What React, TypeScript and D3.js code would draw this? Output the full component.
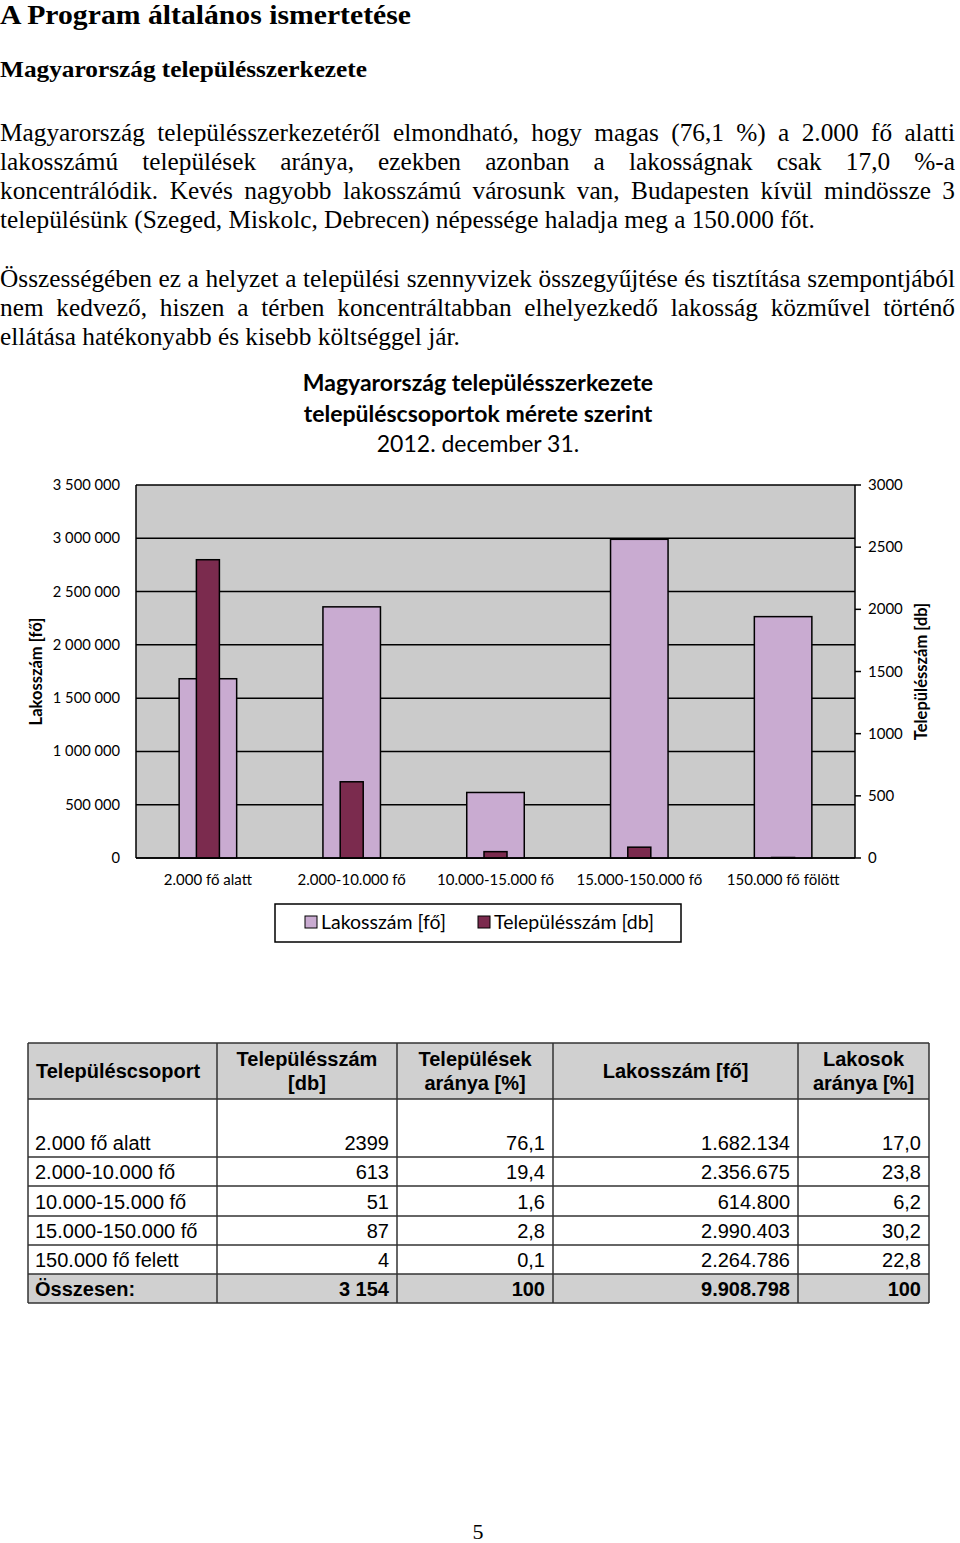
import React, { useMemo } from 'react';
import * as d3 from 'd3';

// ---------- Data ----------
const categories = ['2.000 fő alatt', '2.000-10.000 fő', '10.000-15.000 fő', '15.000-150.000 fő', '150.000 fő fölött'];
const lakosszam = [1682134, 2356675, 614800, 2990403, 2264786];
const telepulesszam = [2399, 613, 51, 87, 4];
const leftTicks = [0, 500000, 1000000, 1500000, 2000000, 2500000, 3000000, 3500000];
const rightTicks = [0, 500, 1000, 1500, 2000, 2500, 3000];

const tableHeaders = [['Településcsoport'], ['Településszám', '[db]'], ['Települések', 'aránya [%]'], ['Lakosszám [fő]'], ['Lakosok', 'aránya [%]']];
const tableGroups = ['2.000 fő alatt', '2.000-10.000 fő', '10.000-15.000 fő', '15.000-150.000 fő', '150.000 fő felett'];
const tableTelepulesszam = ['2399', '613', '51', '87', '4'];
const tableTelepulesArany = ['76,1', '19,4', '1,6', '2,8', '0,1'];
const tableLakosszam = ['1.682.134', '2.356.675', '614.800', '2.990.403', '2.264.786'];
const tableLakosArany = ['17,0', '23,8', '6,2', '30,2', '22,8'];
const tableTotals = ['Összesen:', '3 154', '100', '9.908.798', '100'];

const para1 = [
  'Magyarország településszerkezetéről elmondható, hogy magas (76,1 %) a 2.000 fő alatti',
  'lakosszámú települések aránya, ezekben azonban a lakosságnak csak  17,0 %-a',
  'koncentrálódik. Kevés nagyobb lakosszámú városunk van, Budapesten kívül mindössze 3',
  'településünk (Szeged, Miskolc, Debrecen) népessége haladja meg a 150.000 főt.',
];
const para2 = [
  'Összességében ez a helyzet a települési szennyvizek összegyűjtése és tisztítása szempontjából',
  'nem kedvező, hiszen a térben koncentráltabban elhelyezkedő lakosság közművel történő',
  'ellátása hatékonyabb és kisebb költséggel jár.',
];

const LIGHT = '#C9ABD1';
const DARK = '#7B2B4E';
const PLOT_BG = '#CBCBCB';
const CH_FONT = 'Lato, "Open Sans", sans-serif';
const SERIF = '"Liberation Serif", "Times New Roman", serif';
const ARIAL = '"Liberation Sans", Arial, sans-serif';

const locale = d3.formatLocale({ decimal: ',', thousands: '\u00a0', grouping: [3], currency: ['', ''] });
const fmtLeft = locale.format(',');

let _ctx: CanvasRenderingContext2D | null = null;
function measure(text: string, font: string) {
  if (!_ctx) _ctx = document.createElement('canvas').getContext('2d');
  if (!_ctx) return text.length * 10;
  _ctx.font = font;
  return _ctx.measureText(text).width;
}

const PFS = 26;
const PFONT = `${PFS}px "Liberation Serif"`;

function Paragraph({ lines, top, sx, lh }: { lines: string[]; top: number; sx: number; lh: number }) {
  const W = 955;
  return (
    <g>
      {lines.map((line, i) => {
        const y = top + i * lh;
        const last = i === lines.length - 1;
        if (last) {
          return (
            <text key={i} transform={`translate(0,${y}) scale(${sx},1)`} fontFamily={SERIF} fontSize={PFS} fill="#000">
              {line}
            </text>
          );
        }
        const words = line.split(' ').filter((w) => w.length > 0);
        const widths = words.map((w) => measure(w, PFONT) * sx);
        const total = d3.sum(widths);
        const gap = (W - total) / (words.length - 1);
        let x = 0;
        return (
          <g key={i}>
            {words.map((w, j) => {
              const el = (
                <text key={j} transform={`translate(${x},${y}) scale(${sx},1)`} fontFamily={SERIF} fontSize={PFS} fill="#000">
                  {w}
                </text>
              );
              x += widths[j] + gap;
              return el;
            })}
          </g>
        );
      })}
    </g>
  );
}

export default function App() {
  const sx = useMemo(() => {
    const w = measure(para1[3], PFONT);
    return w > 0 ? 815 / w : 1;
  }, []);

  // chart geometry
  const plotL = 136, plotR = 855, plotT = 485, plotB = 858;
  const x = d3.scaleBand<string>().domain(categories).range([plotL, plotR]).padding(0);
  const yL = d3.scaleLinear().domain([0, 3500000]).range([plotB, plotT]);
  const yR = d3.scaleLinear().domain([0, 3000]).range([plotB, plotT]);
  const bw = x.bandwidth();
  const lakW = bw * 0.4;
  const telW = bw * 0.16;

  // table geometry
  const colX = [28, 217, 397, 553, 798, 929];
  const hTop = 1043, hBot = 1099;
  const rowBottoms = [1157, 1186, 1216, 1245, 1274, 1303];
  const tableCols = [tableGroups, tableTelepulesszam, tableTelepulesArany, tableLakosszam, tableLakosArany];

  return (
    <svg width={960} height={1543} style={{ position: 'absolute', left: 0, top: 0, background: '#fff' }}>
      <rect x={0} y={0} width={960} height={1543} fill="#fff" />
      {/* Headings */}
      <text x={0} y={24} fontFamily={SERIF} fontWeight="bold" fontSize={28} textLength={411} lengthAdjust="spacingAndGlyphs">
        A Program általános ismertetése
      </text>
      <text x={0} y={77} fontFamily={SERIF} fontWeight="bold" fontSize={24} textLength={367} lengthAdjust="spacingAndGlyphs">
        Magyarország településszerkezete
      </text>
      <Paragraph lines={para1} top={141} sx={sx} lh={29} />
      <Paragraph lines={para2} top={287} sx={sx} lh={29} />

      {/* Chart title */}
      <g fontFamily={CH_FONT} textAnchor="middle" fill="#000">
        <text x={478} y={391} fontSize={23} fontWeight="bold">Magyarország településszerkezete</text>
        <text x={478} y={422} fontSize={23} fontWeight="bold">településcsoportok mérete szerint</text>
        <text x={478} y={452} fontSize={23}>2012. december 31.</text>
      </g>

      {/* Plot area */}
      <rect x={plotL} y={plotT} width={plotR - plotL} height={plotB - plotT} fill={PLOT_BG} />
      {leftTicks.map((t) => (
        <line key={t} x1={plotL} x2={plotR} y1={yL(t)} y2={yL(t)} stroke="#000" strokeWidth={1.5} />
      ))}
      <line x1={plotL} x2={plotL} y1={plotT} y2={plotB} stroke="#000" strokeWidth={1.5} />

      {/* Lakosszám bars */}
      {categories.map((c, i) => (
        <rect key={'l' + c} x={x(c)! + bw / 2 - lakW / 2} y={yL(lakosszam[i])} width={lakW} height={plotB - yL(lakosszam[i])}
          fill={LIGHT} stroke="#000" strokeWidth={1.5} />
      ))}
      {/* Településszám bars */}
      {categories.map((c, i) => (
        <rect key={'t' + c} x={x(c)! + bw / 2 - telW / 2} y={yR(telepulesszam[i])} width={telW} height={plotB - yR(telepulesszam[i])}
          fill={DARK} stroke="#000" strokeWidth={1.5} />
      ))}
      <line x1={plotL} x2={plotR} y1={plotB} y2={plotB} stroke="#000" strokeWidth={1.5} />

      {/* Right axis */}
      <line x1={plotR} x2={plotR} y1={plotT} y2={plotB} stroke="#000" strokeWidth={1.5} />
      {rightTicks.map((t) => (
        <g key={t}>
          <line x1={plotR} x2={plotR + 6} y1={yR(t)} y2={yR(t)} stroke="#000" strokeWidth={1.5} />
          <text x={868} y={yR(t) + 5} fontFamily={CH_FONT} fontSize={15}>{t}</text>
        </g>
      ))}
      {/* Left axis labels */}
      {leftTicks.map((t) => (
        <text key={t} x={120} y={yL(t) + 5} fontFamily={CH_FONT} fontSize={14.7} textAnchor="end">{fmtLeft(t)}</text>
      ))}
      <text transform={`translate(42,${(plotT + plotB) / 2}) rotate(-90)`} textAnchor="middle" fontFamily={CH_FONT} fontSize={16.5} fontWeight="bold">
        Lakosszám [fő]
      </text>
      <text transform={`translate(927,${(plotT + plotB) / 2}) rotate(-90)`} textAnchor="middle" fontFamily={CH_FONT} fontSize={16.5} fontWeight="bold">
        Településszám [db]
      </text>
      {/* X labels */}
      {categories.map((c) => (
        <text key={'x' + c} x={x(c)! + bw / 2} y={885} textAnchor="middle" fontFamily={CH_FONT} fontSize={15}>{c}</text>
      ))}

      {/* Legend */}
      <rect x={275} y={904} width={406} height={38} fill="#fff" stroke="#000" strokeWidth={1.5} />
      <rect x={305} y={916} width={12} height={12} fill={LIGHT} stroke="#000" strokeWidth={1} />
      <text x={321} y={929} fontFamily={CH_FONT} fontSize={19.5}>Lakosszám [fő]</text>
      <rect x={478} y={916} width={12} height={12} fill={DARK} stroke="#000" strokeWidth={1} />
      <text x={494} y={929} fontFamily={CH_FONT} fontSize={19.5}>Településszám [db]</text>

      {/* Table */}
      <rect x={colX[0]} y={hTop} width={colX[5] - colX[0]} height={hBot - hTop} fill="#D0D0D0" />
      <rect x={colX[0]} y={rowBottoms[4]} width={colX[5] - colX[0]} height={rowBottoms[5] - rowBottoms[4]} fill="#D0D0D0" />
      {tableHeaders.map((h, i) => {
        const cx = (colX[i] + colX[i + 1]) / 2;
        if (i === 0) {
          return <text key={i} x={36} y={1078} fontFamily={ARIAL} fontWeight="bold" fontSize={20}>{h[0]}</text>;
        }
        if (h.length === 1) {
          return <text key={i} x={cx} y={1078} textAnchor="middle" fontFamily={ARIAL} fontWeight="bold" fontSize={20}>{h[0]}</text>;
        }
        return (
          <g key={i}>
            <text x={cx} y={1066} textAnchor="middle" fontFamily={ARIAL} fontWeight="bold" fontSize={20}>{h[0]}</text>
            <text x={cx} y={1090} textAnchor="middle" fontFamily={ARIAL} fontWeight="bold" fontSize={20}>{h[1]}</text>
          </g>
        );
      })}
      {tableGroups.map((g, r) => (
        <g key={'r' + r}>
          {tableCols.map((col, ci) => (
            <text key={ci} x={ci === 0 ? 35 : colX[ci + 1] - 8} y={rowBottoms[r] - 7.5} textAnchor={ci === 0 ? 'start' : 'end'}
              fontFamily={ARIAL} fontSize={20}>{col[r]}</text>
          ))}
        </g>
      ))}
      {tableTotals.map((v, ci) => (
        <text key={'tot' + ci} x={ci === 0 ? 35 : colX[ci + 1] - 8} y={rowBottoms[5] - 7.5} textAnchor={ci === 0 ? 'start' : 'end'}
          fontFamily={ARIAL} fontWeight="bold" fontSize={20}>{v}</text>
      ))}
      {[hTop, hBot, ...rowBottoms].map((yy) => (
        <line key={'h' + yy} x1={colX[0]} x2={colX[5]} y1={yy} y2={yy} stroke="#333" strokeWidth={1.5} />
      ))}
      {colX.map((xx) => (
        <line key={'v' + xx} x1={xx} x2={xx} y1={hTop} y2={rowBottoms[5]} stroke="#333" strokeWidth={1.5} />
      ))}

      {/* Page number */}
      <text x={478} y={1539} textAnchor="middle" fontFamily={SERIF} fontSize={22}>5</text>
    </svg>
  );
}
